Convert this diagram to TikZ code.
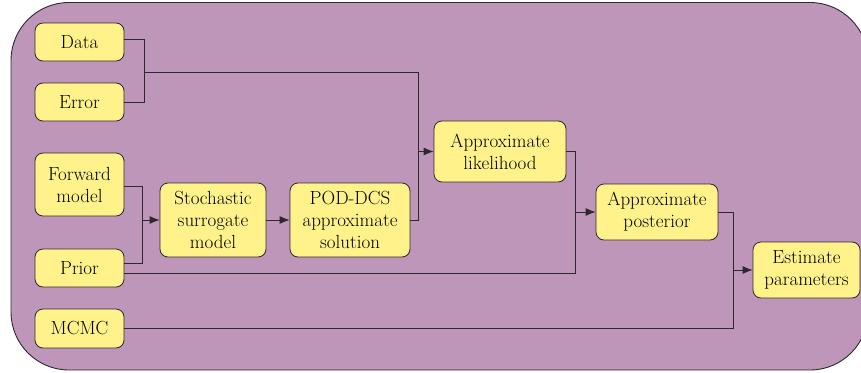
\documentclass[tikz,border=0pt]{standalone}
\usetikzlibrary{arrows.meta,calc}
\definecolor{bgpurple}{RGB}{189,150,186}
\definecolor{boxyellow}{RGB}{255,242,138}
\definecolor{edgegray}{RGB}{45,40,45}
\begin{document}
\begin{tikzpicture}[x=1pt,y=-1pt,
  box/.style={draw=edgegray,fill=boxyellow,rounded corners=8pt,line width=0.8pt,
    align=center,inner sep=0pt,font=\fontsize{19}{22}\selectfont},
  conn/.style={draw=edgegray,line width=0.9pt},
  arr/.style={conn,-{Latex[length=10pt,width=8pt]}}]
\useasboundingbox (0,0) rectangle (861,372);
\begin{scope}
\clip (0,0) rectangle (861,372);
\draw[fill=bgpurple,draw=edgegray,line width=0.9pt,rounded corners=58pt] (11,2.5) rectangle (868,370);
\end{scope}
\node[box,minimum width=89pt,minimum height=38pt] (data) at (79.5,42) {Data};
\node[box,minimum width=89pt,minimum height=38pt] (error) at (79.5,102) {Error};
\node[box,minimum width=89pt,minimum height=63pt] (fwd) at (79.5,184.5) {Forward\\model};
\node[box,minimum width=89pt,minimum height=38pt] (prior) at (79.5,268) {Prior};
\node[box,minimum width=89pt,minimum height=39pt] (mcmc) at (79.5,328.5) {MCMC};
\node[box,minimum width=106pt,minimum height=74pt] (stoch) at (213,220) {Stochastic\\surrogate\\model};
\node[box,minimum width=120pt,minimum height=74pt] (pod) at (350,220) {POD-DCS\\approximate\\solution};
\node[box,minimum width=132pt,minimum height=61pt] (lik) at (500,151.5) {Approximate\\likelihood};
\node[box,minimum width=122pt,minimum height=56pt] (post) at (657,212) {Approximate\\posterior};
\node[box,minimum width=107pt,minimum height=56pt] (est) at (806.5,270) {Estimate\\parameters};
% Data + Error -> likelihood
\coordinate (j1) at (144,72);
\draw[conn] ($(data.east)+(0,-3)$) -- ++(20,0) |- (error.east);
\draw[conn] (j1) -| (418,140);
\draw[arr] (418,140) |- (lik.west);
\draw[conn] (pod.east) -| (418,151.5);
% Forward + Prior -> stochastic
\draw[conn] ($(fwd.east)+(0,2)$) -- ++(18,0) |- ($(prior.east)+(0,-5)$);
\draw[arr] (142,220) -- (stoch.west);
\draw[arr] (stoch.east) -- (pod.west);
% likelihood + prior -> posterior
\draw[conn] ($(prior.east)+(0,5)$) -| (575,212);
\draw[conn] (lik.east) -| (575,212);
\draw[arr] (575,212) -- (post.west);
% posterior + MCMC -> estimate
\draw[conn] (post.east) -| (733,328.5);
\draw[conn] (mcmc.east) -- (733,328.5);
\draw[arr] (733,270) -- (est.west);
\end{tikzpicture}
\end{document}
